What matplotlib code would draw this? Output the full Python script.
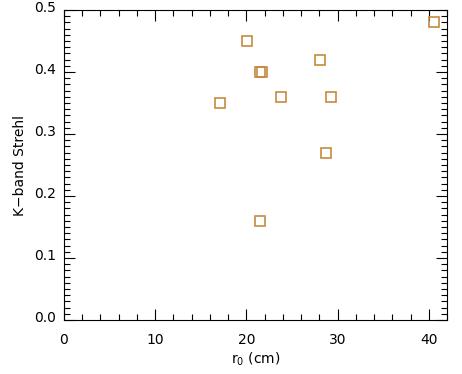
import matplotlib
matplotlib.use("Agg")
import matplotlib.pyplot as plt
from matplotlib.ticker import MultipleLocator
from matplotlib.transforms import ScaledTranslation

r0_cm = [17.1, 20.1, 21.5, 21.7, 23.8, 28.1, 29.3, 28.7, 21.5, 40.6]
strehl = [0.35, 0.45, 0.40, 0.40, 0.36, 0.42, 0.36, 0.27, 0.16, 0.48]
xticks = [0, 10, 20, 30, 40]
yticks = [0.0, 0.1, 0.2, 0.3, 0.4, 0.5]

fig = plt.figure(figsize=(4.62, 3.74), dpi=100)
ax = fig.add_axes([64/462, 54/374, 383/462, 310/374])

ax.plot(r0_cm, strehl, linestyle='none', marker='s', markersize=6.5,
        markerfacecolor='none', markeredgecolor='#C68A3E', markeredgewidth=1.2)

ax.set_xlim(0, 42)
ax.set_ylim(0, 0.5)
ax.set_xticks(xticks)
ax.set_yticks(yticks)
ax.set_xticklabels([str(v) for v in xticks])
ax.set_yticklabels([f"{v:.1f}" for v in yticks])
ax.xaxis.set_minor_locator(MultipleLocator(2))
ax.yaxis.set_minor_locator(MultipleLocator(0.01))
ax.tick_params(which='both', direction='in', top=True, right=True, labelsize=10, width=0.8)
ax.tick_params(axis='x', pad=9)
ax.tick_params(axis='y', pad=6)
ax.tick_params(which='major', length=8)
ax.tick_params(which='minor', length=4)
for s in ax.spines.values():
    s.set_linewidth(0.8)

off = ScaledTranslation(0, 4/100, fig.dpi_scale_trans)
for lbl in ax.get_yticklabels():
    lbl.set_transform(lbl.get_transform() + off)

ax.set_xlabel("r$_0$ (cm)", fontsize=10, labelpad=3)
ax.set_ylabel("K\u2212band Strehl", fontsize=10, labelpad=5)

fig.savefig("out.png", dpi=100)
